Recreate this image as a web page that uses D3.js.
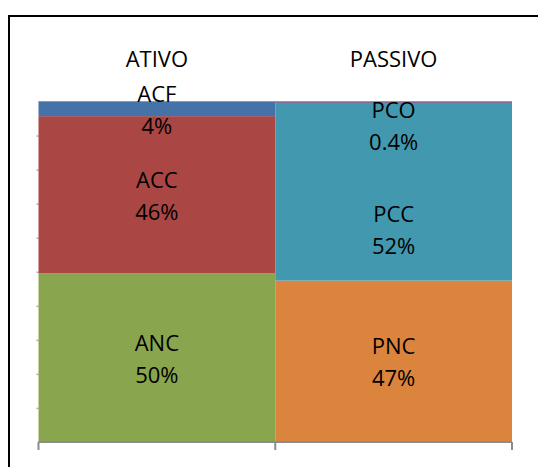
<!DOCTYPE html>
<html>
<head>
<meta charset="utf-8">
<script src="https://cdn.jsdelivr.net/npm/d3@7"></script>
<style>
  body { margin: 0; background: #fff; }
  text { font-family: "Open Sans", sans-serif; font-size: 22px; fill: #000; }
</style>
</head>
<body>
<script>
// chart data
const categories = ["ATIVO", "PASSIVO"];
const ativoNames = ["ANC", "ACC", "ACF"];
const ativoValues = [49.6, 46.1, 4.3];
const passivoNames = ["PNC", "PCC", "PCO"];
const passivoValues = [47.4, 52.2, 0.4];
const yTicks = [0, 10, 20, 30, 40, 50, 60, 70, 80, 90, 100];

const colors = {
  ANC: "#89a54e", ACC: "#aa4643", ACF: "#4572a7",
  PNC: "#db843d", PCC: "#4198af", PCO: "#71588f"
};
// labels moved by hand in the original
const labelNudge = { PCC: 37, PCO: 23 };

const width = 538, height = 467;

const svg = d3.select("body")
    .append("svg")
    .attr("width", width)
    .attr("height", height);

// outer frame (right and bottom edges run off the picture)
svg.append("rect")
    .attr("x", 9).attr("y", 16)
    .attr("width", 700).attr("height", 700)
    .attr("fill", "none")
    .attr("stroke", "#000")
    .attr("stroke-width", 2);

const x = d3.scaleBand()
    .domain(categories)
    .range([38.5, 512])
    .padding(0);

const y = d3.scaleLinear()
    .domain([0, 100])
    .range([442, 101.5]);

// build stacked segments
const stacks = [
  { cat: "ATIVO", names: ativoNames, values: ativoValues },
  { cat: "PASSIVO", names: passivoNames, values: passivoValues }
];
const segments = [];
stacks.forEach(s => {
  let base = 0;
  s.names.forEach((n, i) => {
    segments.push({ cat: s.cat, name: n, value: s.values[i], y0: base, y1: base + s.values[i] });
    base += s.values[i];
  });
});

// left tick marks
svg.append("g")
    .attr("transform", `translate(${x.range()[0]},0)`)
    .call(d3.axisLeft(y).tickValues(yTicks.slice(1, -1)).tickSize(2).tickFormat(""))
    .call(g => g.select(".domain").remove())
    .call(g => g.selectAll("line").attr("stroke", "#aaa").attr("stroke-width", 1.5));

svg.append("g")
    .selectAll("rect")
    .data(segments)
    .join("rect")
    .attr("x", d => x(d.cat))
    .attr("width", x.bandwidth())
    .attr("y", d => y(d.y1))
    .attr("height", d => y(d.y0) - y(d.y1))
    .attr("fill", d => colors[d.name]);

// thin line at 100%
svg.append("line")
    .attr("x1", x.range()[0]).attr("x2", x.range()[1])
    .attr("y1", y(100)).attr("y2", y(100))
    .attr("stroke", "#999")
    .attr("stroke-width", 1);

// category axis at bottom
const bottom = svg.append("g").attr("stroke", "#8c8c8c").attr("stroke-width", 2);
bottom.append("line")
    .attr("x1", x.range()[0]).attr("x2", x.range()[1])
    .attr("y1", y(0)).attr("y2", y(0));
const edges = categories.map(c => x(c)).concat([x.range()[1]]);
bottom.selectAll(".tk")
    .data(edges)
    .join("line")
    .attr("class", "tk")
    .attr("x1", d => d).attr("x2", d => d)
    .attr("y1", y(0)).attr("y2", y(0) + 8);

// category names on top
svg.append("g")
    .selectAll("text")
    .data(categories)
    .join("text")
    .attr("x", d => x(d) + x.bandwidth() / 2)
    .attr("y", 67)
    .attr("text-anchor", "middle")
    .text(d => d);

// data labels
const fmt = v => (v < 1 ? v.toFixed(1) : Math.round(v)) + "%";
const lbl = svg.append("g")
    .selectAll("g")
    .data(segments)
    .join("g")
    .attr("transform", d => {
      const c = (y(d.y0) + y(d.y1)) / 2 + (labelNudge[d.name] || 0);
      return `translate(${x(d.cat) + x.bandwidth() / 2},${c})`;
    });
lbl.append("text")
    .attr("text-anchor", "middle")
    .attr("y", -7)
    .text(d => d.name);
lbl.append("text")
    .attr("text-anchor", "middle")
    .attr("y", 25)
    .text(d => fmt(d.value));
</script>
</body>
</html>
